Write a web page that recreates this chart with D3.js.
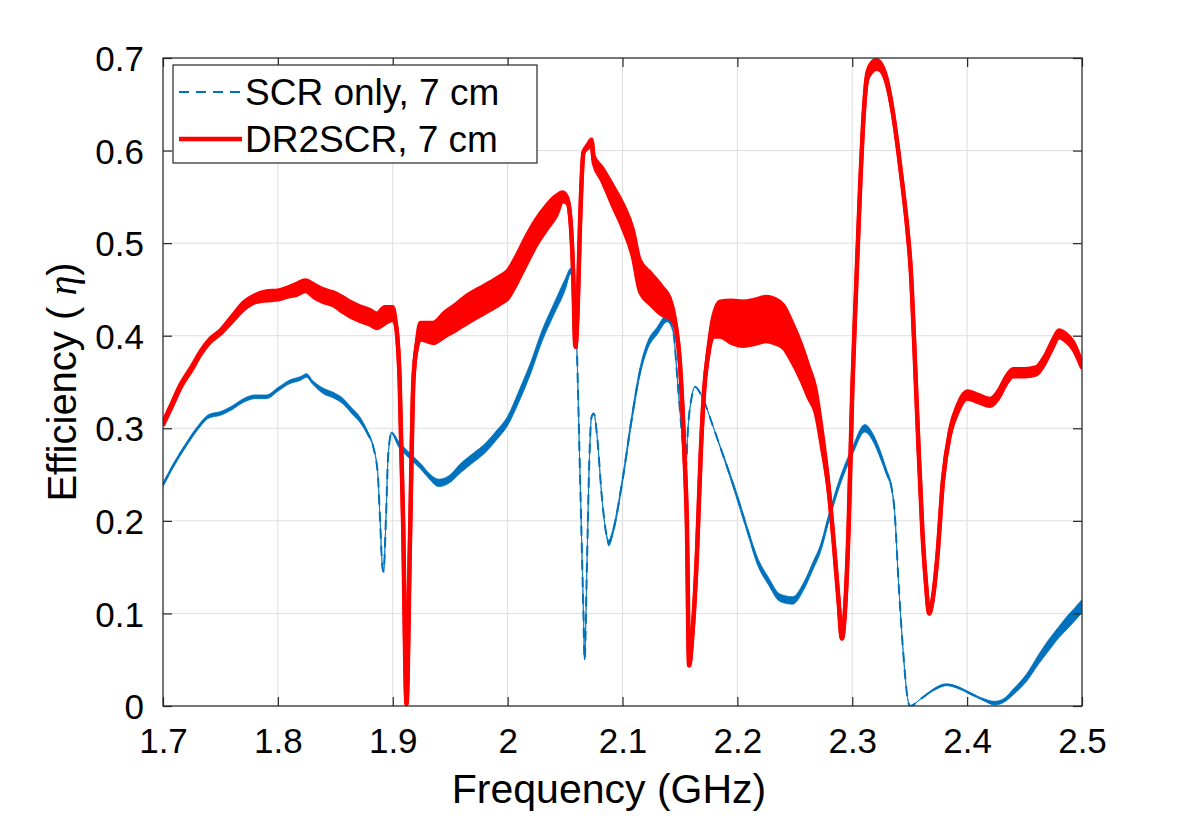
<!DOCTYPE html>
<html>
<head>
<meta charset="utf-8">
<script src="https://cdn.jsdelivr.net/npm/d3@7"></script>
<style>
  body { margin: 0; background: #fff; }
  text { font-family: "Liberation Sans", Arial, Helvetica, sans-serif; fill: #000; }
</style>
</head>
<body>
<script>
// Efficiency vs frequency, SCR only vs DR2SCR

// SCR only, 7 cm  (frequency GHz, efficiency, half-width of the noise band)
const scrFreq = [1.700, 1.710, 1.720, 1.730, 1.740, 1.750, 1.760, 1.770, 1.780, 1.790,
                 1.800, 1.810, 1.820, 1.825, 1.830, 1.840, 1.848, 1.856, 1.865, 1.871,
                 1.878, 1.883, 1.887, 1.889, 1.891, 1.892, 1.894, 1.896, 1.899, 1.905,
                 1.915, 1.925, 1.932, 1.940, 1.948, 1.960, 1.970, 1.980, 1.990, 2.000,
                 2.010, 2.020, 2.030, 2.040, 2.050, 2.055, 2.058, 2.060, 2.063, 2.066,
                 2.067, 2.069, 2.071, 2.073, 2.075, 2.078, 2.082, 2.086, 2.088, 2.092,
                 2.100, 2.108, 2.115, 2.122, 2.130, 2.139, 2.144, 2.148, 2.152, 2.155,
                 2.157, 2.160, 2.163, 2.170, 2.178, 2.185, 2.192, 2.200, 2.210, 2.217,
                 2.227, 2.237, 2.248, 2.258, 2.266, 2.272, 2.280, 2.290, 2.300, 2.311,
                 2.318, 2.324, 2.330, 2.334, 2.337, 2.340, 2.344, 2.348, 2.350, 2.360,
                 2.370, 2.382, 2.392, 2.402, 2.414, 2.424, 2.432, 2.440, 2.452, 2.462,
                 2.470, 2.480, 2.487, 2.493, 2.500];
const scrEff  = [0.239, 0.262, 0.282, 0.300, 0.313, 0.316, 0.322, 0.330, 0.334, 0.334,
                 0.342, 0.350, 0.354, 0.357, 0.350, 0.340, 0.336, 0.330, 0.318, 0.310,
                 0.295, 0.280, 0.250, 0.200, 0.150, 0.145, 0.200, 0.270, 0.295, 0.283,
                 0.270, 0.258, 0.248, 0.241, 0.244, 0.258, 0.268, 0.278, 0.292, 0.308,
                 0.335, 0.365, 0.400, 0.428, 0.455, 0.470, 0.440, 0.395, 0.250, 0.100,
                 0.050, 0.150, 0.260, 0.312, 0.316, 0.290, 0.226, 0.185, 0.176, 0.190,
                 0.244, 0.310, 0.360, 0.390, 0.405, 0.419, 0.406, 0.350, 0.290, 0.255,
                 0.300, 0.332, 0.345, 0.332, 0.305, 0.280, 0.255, 0.225, 0.185, 0.158,
                 0.135, 0.117, 0.114, 0.130, 0.152, 0.169, 0.205, 0.245, 0.275, 0.300,
                 0.290, 0.273, 0.252, 0.237, 0.208, 0.140, 0.064, 0.010, 0.000, 0.008,
                 0.017, 0.023, 0.020, 0.014, 0.007, 0.003, 0.006, 0.015, 0.031, 0.050,
                 0.064, 0.080, 0.090, 0.098, 0.108];
const scrNoise = [0.002, 0.002, 0.002, 0.002, 0.002, 0.002, 0.002, 0.002, 0.002, 0.002,
                  0.002, 0.002, 0.002, 0.002, 0.002, 0.003, 0.003, 0.003, 0.003, 0.003,
                  0.002, 0.001, 0, 0, 0, 0, 0, 0, 0.001, 0.003,
                  0.003, 0.003, 0.003, 0.004, 0.004, 0.005, 0.005, 0.005, 0.005, 0.005,
                  0.006, 0.006, 0.006, 0.006, 0.006, 0.003, 0, 0, 0, 0,
                  0, 0, 0, 0, 0, 0, 0, 0.001, 0.003, 0.003,
                  0.003, 0.004, 0.004, 0.004, 0.004, 0.004, 0.002, 0, 0, 0,
                  0, 0, 0, 0, 0, 0.001, 0.002, 0.003, 0.003, 0.004,
                  0.004, 0.004, 0.004, 0.004, 0.004, 0.004, 0.004, 0.004, 0.004, 0.004,
                  0.004, 0.004, 0.003, 0.002, 0, 0, 0, 0, 0, 0,
                  0.001, 0.001, 0.001, 0.001, 0.001, 0.002, 0.002, 0.003, 0.004, 0.005,
                  0.006, 0.006, 0.007, 0.007, 0.007];

// DR2SCR, 7 cm
const drFreq = [1.700, 1.708, 1.715, 1.725, 1.733, 1.741, 1.750, 1.760, 1.770, 1.780,
                1.790, 1.800, 1.808, 1.816, 1.824, 1.832, 1.840, 1.848, 1.856, 1.864,
                1.871, 1.880, 1.886, 1.893, 1.900, 1.903, 1.906, 1.909, 1.912, 1.915,
                1.918, 1.921, 1.924, 1.935, 1.945, 1.955, 1.964, 1.975, 1.985, 1.993,
                2.000, 2.008, 2.017, 2.025, 2.034, 2.042, 2.048, 2.052, 2.055, 2.057,
                2.059, 2.061, 2.063, 2.066, 2.070, 2.073, 2.075, 2.082, 2.092, 2.100,
                2.109, 2.115, 2.125, 2.135, 2.141, 2.145, 2.150, 2.154, 2.156, 2.158,
                2.161, 2.165, 2.168, 2.171, 2.175, 2.179, 2.185, 2.195, 2.205, 2.215,
                2.225, 2.232, 2.240, 2.248, 2.256, 2.262, 2.268, 2.274, 2.279, 2.284,
                2.288, 2.291, 2.294, 2.297, 2.300, 2.303, 2.307, 2.310, 2.313, 2.317,
                2.321, 2.325, 2.330, 2.336, 2.340, 2.344, 2.348, 2.351, 2.354, 2.357,
                2.361, 2.364, 2.367, 2.370, 2.374, 2.379, 2.385, 2.392, 2.400, 2.410,
                2.420, 2.428, 2.434, 2.440, 2.450, 2.460, 2.468, 2.474, 2.480, 2.486,
                2.492, 2.500];
const drEff  = [0.305, 0.326, 0.345, 0.365, 0.382, 0.395, 0.404, 0.418, 0.432, 0.440,
                0.443, 0.444, 0.447, 0.450, 0.454, 0.448, 0.443, 0.440, 0.434, 0.428,
                0.424, 0.420, 0.416, 0.422, 0.424, 0.410, 0.352, 0.200, 0.002, 0.180,
                0.352, 0.390, 0.405, 0.403, 0.412, 0.420, 0.428, 0.436, 0.443, 0.449,
                0.455, 0.472, 0.494, 0.512, 0.528, 0.540, 0.550, 0.546, 0.520, 0.470,
                0.388, 0.430, 0.520, 0.598, 0.605, 0.610, 0.590, 0.575, 0.550, 0.530,
                0.500, 0.465, 0.450, 0.437, 0.430, 0.418, 0.370, 0.270, 0.200, 0.044,
                0.080, 0.170, 0.270, 0.340, 0.385, 0.410, 0.418, 0.415, 0.413, 0.415,
                0.418, 0.416, 0.410, 0.392, 0.370, 0.350, 0.330, 0.285, 0.240, 0.175,
                0.115, 0.073, 0.110, 0.200, 0.340, 0.440, 0.565, 0.640, 0.680, 0.690,
                0.693, 0.690, 0.675, 0.636, 0.600, 0.560, 0.515, 0.470, 0.390, 0.300,
                0.190, 0.135, 0.100, 0.115, 0.160, 0.244, 0.295, 0.322, 0.336, 0.332,
                0.328, 0.338, 0.352, 0.360, 0.360, 0.362, 0.375, 0.390, 0.402, 0.398,
                0.390, 0.368];
const drNoise = [0.002, 0.002, 0.002, 0.002, 0.002, 0.002, 0.002, 0.003, 0.004, 0.004,
                 0.005, 0.005, 0.005, 0.006, 0.006, 0.007, 0.007, 0.007, 0.008, 0.008,
                 0.008, 0.008, 0.008, 0.009, 0.007, 0, 0, 0, 0, 0,
                 0, 0.004, 0.009, 0.011, 0.013, 0.014, 0.015, 0.015, 0.015, 0.015,
                 0.015, 0.015, 0.015, 0.014, 0.013, 0.011, 0.005, 0.003, 0, 0,
                 0, 0, 0, 0, 0.002, 0.002, 0.004, 0.007, 0.011, 0.013,
                 0.015, 0.017, 0.017, 0.015, 0.011, 0.005, 0, 0, 0, 0,
                 0, 0, 0, 0, 0.004, 0.011, 0.019, 0.023, 0.024, 0.024,
                 0.024, 0.024, 0.023, 0.021, 0.019, 0.017, 0.013, 0.009, 0.004, 0,
                 0, 0, 0, 0, 0, 0, 0, 0.001, 0.004, 0.005,
                 0.005, 0.004, 0.003, 0.001, 0, 0, 0, 0, 0, 0,
                 0, 0, 0, 0, 0, 0.001, 0.003, 0.004, 0.004, 0.004,
                 0.004, 0.004, 0.004, 0.004, 0.004, 0.004, 0.004, 0.004, 0.004, 0.004,
                 0.004, 0.003];

const xTicks = [1.7, 1.8, 1.9, 2.0, 2.1, 2.2, 2.3, 2.4, 2.5];
const yTicks = [0, 0.1, 0.2, 0.3, 0.4, 0.5, 0.6, 0.7];
const seriesNames = ["SCR only, 7 cm", "DR2SCR, 7 cm"];

const scrData = scrFreq.map((f, i) => ({f: f, v: scrEff[i], n: scrNoise[i]}));
const drData = drFreq.map((f, i) => ({f: f, v: drEff[i], n: drNoise[i]}));

const margin = {top: 58, right: 104, bottom: 111, left: 163};
const outerWidth = 1186;
const outerHeight = 817;
const innerWidth = outerWidth - margin.left - margin.right;
const innerHeight = outerHeight - margin.top - margin.bottom;

const blue = "#0072BD";
const red = "#FF0000";
const axisColor = "#262626";
const tickFont = 35;

const svg = d3.select("body").append("svg")
    .attr("width", outerWidth)
    .attr("height", outerHeight);

const inner = svg.append("g")
    .attr("transform", "translate(" + margin.left + "," + margin.top + ")");

const xScale = d3.scaleLinear().domain([1.7, 2.5]).range([0, innerWidth]);
const yScale = d3.scaleLinear().domain([0, 0.7]).range([innerHeight, 0]);

const fmt = d => String(+d.toFixed(1));

// grid
inner.append("g").selectAll("line")
    .data(xTicks)
    .join("line")
    .attr("x1", d => xScale(d)).attr("x2", d => xScale(d))
    .attr("y1", 0).attr("y2", innerHeight)
    .attr("stroke", "#dedede").attr("stroke-width", 1);

inner.append("g").selectAll("line")
    .data(yTicks)
    .join("line")
    .attr("x1", 0).attr("x2", innerWidth)
    .attr("y1", d => yScale(d)).attr("y2", d => yScale(d))
    .attr("stroke", "#dedede").attr("stroke-width", 1);

inner.append("clipPath").attr("id", "plot-clip")
    .append("rect")
    .attr("width", innerWidth).attr("height", innerHeight);

const plot = inner.append("g").attr("clip-path", "url(#plot-clip)");

const band = d3.area()
    .x(d => xScale(d.f))
    .y0(d => yScale(d.v - d.n))
    .y1(d => yScale(d.v + d.n))
    .curve(d3.curveMonotoneX);

const line = d3.line()
    .x(d => xScale(d.f))
    .y(d => yScale(d.v))
    .curve(d3.curveMonotoneX);

// SCR only (dashed; the noisy stretches fill in as a band)
plot.append("path").datum(scrData)
    .attr("d", band)
    .attr("fill", blue)
    .attr("stroke", blue).attr("stroke-width", 0.8);
plot.append("path").datum(scrData)
    .attr("d", line)
    .attr("fill", "none")
    .attr("stroke", blue)
    .attr("stroke-width", 2)
    .attr("stroke-dasharray", "10,7");

// DR2SCR (solid, thick)
plot.append("path").datum(drData)
    .attr("d", band)
    .attr("fill", red)
    .attr("stroke", red).attr("stroke-width", 4);
plot.append("path").datum(drData)
    .attr("d", line)
    .attr("fill", "none")
    .attr("stroke", red)
    .attr("stroke-width", 4.5)
    .attr("stroke-linejoin", "round");

// axes
const xAxis = inner.append("g")
    .attr("transform", "translate(0," + innerHeight + ")")
    .call(d3.axisBottom(xScale).tickValues(xTicks).tickFormat(fmt)
        .tickSizeInner(-9).tickSizeOuter(0).tickPadding(22));
const yAxis = inner.append("g")
    .call(d3.axisLeft(yScale).tickValues(yTicks).tickFormat(fmt)
        .tickSizeInner(-9).tickSizeOuter(0).tickPadding(19));
const xTop = inner.append("g")
    .call(d3.axisTop(xScale).tickValues(xTicks)
        .tickSizeInner(-9).tickSizeOuter(0));
const yRight = inner.append("g")
    .attr("transform", "translate(" + innerWidth + ",0)")
    .call(d3.axisRight(yScale).tickValues(yTicks)
        .tickSizeInner(-9).tickSizeOuter(0));
xTop.selectAll("text").remove();
yRight.selectAll("text").remove();

[xAxis, yAxis, xTop, yRight].forEach(g => {
    g.select(".domain").remove();
    g.attr("color", axisColor)
     .attr("font-family", "'Liberation Sans', Arial, Helvetica, sans-serif")
     .attr("font-size", tickFont);
    g.selectAll("line").attr("stroke-width", 1.2);
    g.selectAll("text").attr("fill", "#000");
});
yAxis.selectAll("text").attr("dy", "0.36em");

inner.append("rect")
    .attr("width", innerWidth).attr("height", innerHeight)
    .attr("fill", "none")
    .attr("stroke", axisColor).attr("stroke-width", 1.2);

// axis labels
svg.append("text")
    .attr("x", 609)
    .attr("y", 803)
    .attr("text-anchor", "middle")
    .style("font-size", "41px")
    .text("Frequency (GHz)");

const yLab = svg.append("text")
    .attr("transform", "translate(76," + (margin.top + innerHeight / 2) + ") rotate(-90)")
    .attr("text-anchor", "middle")
    .style("font-size", "40px");
yLab.append("tspan").text("Efficiency (  ");
yLab.append("tspan").style("font-family", "'Liberation Serif', 'DejaVu Serif', serif")
    .style("font-style", "italic").text("η");
yLab.append("tspan").text(")");

// legend
const legend = svg.append("g").attr("transform", "translate(173,65)");
legend.append("rect")
    .attr("width", 364).attr("height", 98)
    .attr("fill", "#fff")
    .attr("stroke", axisColor).attr("stroke-width", 1.2);

const legendRows = [
    {name: seriesNames[0], color: blue, width: 2, dash: "10,7"},
    {name: seriesNames[1], color: red, width: 4.5, dash: null}
];
const rows = legend.selectAll(".leg-row")
    .data(legendRows)
    .join("g")
    .attr("class", "leg-row")
    .attr("transform", (d, i) => "translate(0," + (27 + i * 47) + ")");
rows.append("line")
    .attr("x1", 6).attr("x2", 69)
    .attr("stroke", d => d.color)
    .attr("stroke-width", d => d.width)
    .attr("stroke-dasharray", d => d.dash);
rows.append("text")
    .attr("x", 72)
    .attr("dy", "0.36em")
    .style("font-size", "37px")
    .text(d => d.name);
</script>
</body>
</html>
